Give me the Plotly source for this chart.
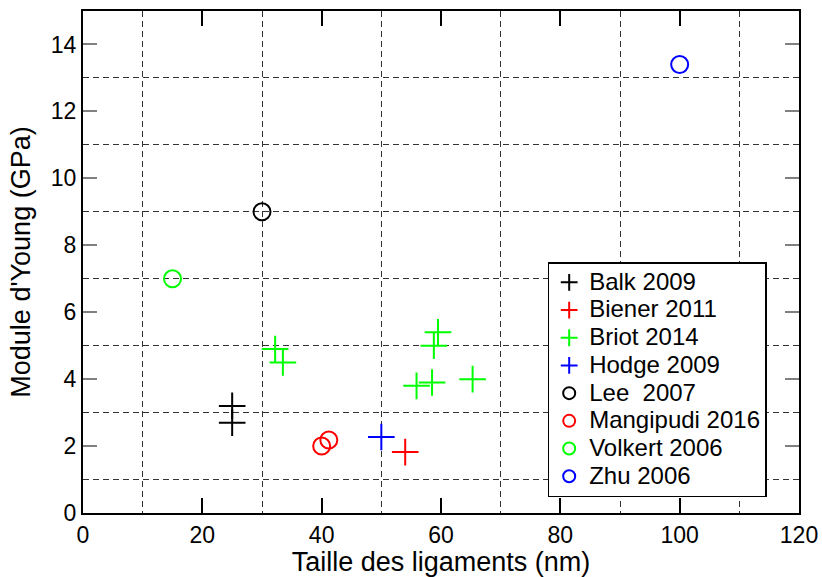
import plotly.graph_objects as go

# Data
balk_x = [25, 25]
balk_y = [3.2, 2.7]
biener_x = [54]
biener_y = [1.82]
briot_x = [32.2, 33.5, 55.9, 58.5, 58.8, 59.5, 65.3]
briot_y = [4.9, 4.5, 3.8, 3.9, 5.0, 5.4, 4.0]
hodge_x = [50]
hodge_y = [2.27]
lee_x = [30]
lee_y = [9.0]
mangipudi_x = [40, 41.2]
mangipudi_y = [2.0, 2.18]
volkert_x = [15]
volkert_y = [7.0]
zhu_x = [100]
zhu_y = [13.4]

series = [
    ("Balk 2009", balk_x, balk_y, "cross", "black"),
    ("Biener 2011", biener_x, biener_y, "cross", "red"),
    ("Briot 2014", briot_x, briot_y, "cross", "#00ff00"),
    ("Hodge 2009", hodge_x, hodge_y, "cross", "blue"),
    ("Lee\u00a0 2007", lee_x, lee_y, "circle", "black"),
    ("Mangipudi 2016", mangipudi_x, mangipudi_y, "circle", "red"),
    ("Volkert 2006", volkert_x, volkert_y, "circle", "#00ff00"),
    ("Zhu 2006", zhu_x, zhu_y, "circle", "blue"),
]

fig = go.Figure()
for name, xs, ys, kind, col in series:
    if kind == "cross":
        marker = dict(symbol="cross-thin-open", size=19, color=col,
                      line=dict(color=col, width=2))
    else:
        marker = dict(symbol="circle-open", size=17, color=col,
                      line=dict(color=col, width=2))
    fig.add_trace(go.Scatter(
        x=xs, y=ys, mode="markers",
        name="<span style='font-size:24px'>" + name + "</span>",
        marker=marker))

font = "Liberation Sans, Arial, Helvetica, sans-serif"
grid_dash = "6px,4px"
fig.update_layout(
    width=822, height=577, autosize=False,
    margin=dict(l=83, r=23, t=11, b=64, autoexpand=False),
    plot_bgcolor="white", paper_bgcolor="white",
    font=dict(family=font, size=22, color="black"),
    legend=dict(x=0.649, y=0.5, xanchor="left", yanchor="top",
                bordercolor="black", borderwidth=1.5, bgcolor="white",
                font=dict(size=19), itemsizing="constant", tracegroupgap=0),
)
fig.update_xaxes(
    range=[0, 120], dtick=20, tick0=0, automargin=False,
    showgrid=False, zeroline=False,
    showline=True, linecolor="black", linewidth=2, mirror="ticks",
    ticks="inside", ticklen=15, tickwidth=2, tickcolor="black",
    tickfont=dict(size=23),
    title=dict(text="Taille des ligaments (nm)", font=dict(size=27), standoff=8),
    minor=dict(dtick=10, tick0=0, showgrid=True, gridcolor="#333333",
               griddash=grid_dash, gridwidth=1, ticks=""),
)
fig.update_yaxes(
    range=[0, 15], dtick=2, tick0=0, automargin=False,
    showgrid=False, zeroline=False,
    showline=True, linecolor="black", linewidth=2, mirror="ticks",
    ticks="inside", ticklen=14, tickwidth=1.5, tickcolor="gray",
    tickfont=dict(size=23),
    title=dict(text="Module d'Young (GPa)", font=dict(size=27), standoff=12),
    minor=dict(dtick=1, tick0=0, showgrid=True, gridcolor="#333333",
               griddash=grid_dash, gridwidth=1, ticks=""),
)
fig.write_html("out.html", config={"displayModeBar": False},
               post_script="document.body.style.margin='0';")
